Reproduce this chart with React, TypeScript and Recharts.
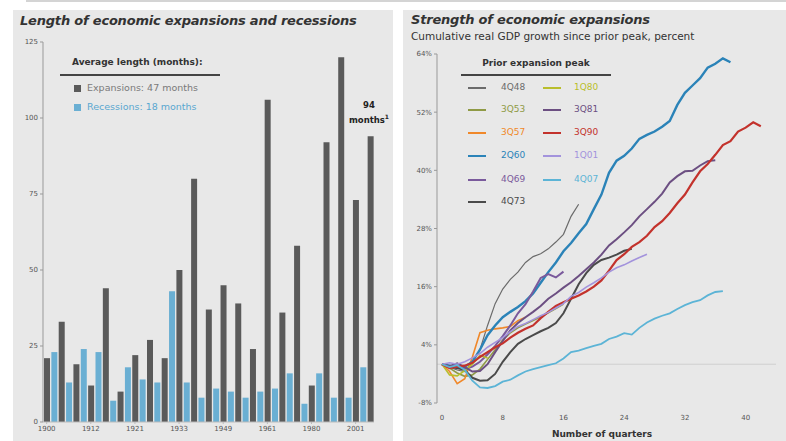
import { BarChart, Bar, XAxis, YAxis, LineChart, Line, ReferenceLine } from "recharts"

// Left panel: length of each expansion / recession (months), alternating, starting with an expansion
const cycleYears = [
  1900, 1902, 1904, 1907, 1908, 1910, 1912, 1913, 1914, 1918, 1919, 1920, 1921, 1923, 1924,
  1926, 1927, 1929, 1933, 1937, 1938, 1945, 1945, 1948, 1949, 1953, 1954, 1957, 1958, 1960,
  1961, 1969, 1970, 1973, 1975, 1980, 1980, 1981, 1982, 1990, 1991, 2001, 2001, 2007, 2009,
]
const cycleMonths = [
  21, 23, 33, 13, 19, 24, 12, 23, 44, 7, 10, 18, 22, 14, 27,
  13, 21, 43, 50, 13, 80, 8, 37, 11, 45, 10, 39, 8, 24, 10,
  106, 11, 36, 16, 58, 6, 12, 16, 92, 8, 120, 8, 73, 18, 94,
]
const monthTicks = [0, 25, 50, 75, 100, 125]

// Right panel: cumulative real GDP growth since prior peak (%), by quarter
const g4Q48 = [0, -0.6, -1.2, -1.5, 0.5, 3, 8, 12.5, 15.5, 17.5, 19, 21, 22.2, 22.8, 23.8, 25.2, 26.8, 30.5, 33]
const g3Q53 = [0, -0.8, -1.8, -2.5, -2.2, -1, 1, 3, 5, 6.5, 7.5, 8.3, 9, 9.8, 10.6, 11.5, 12.4]
const g3Q57 = [0, -1.5, -4, -3, 1.5, 6.5, 7, 7.3, 7.5, 7.8, 9, 9.7]
const g2Q60 = [
  0, -0.3, -0.8, -0.5, 0.5, 3, 6, 8, 9.7, 10.8, 11.8, 13, 14.6, 16.8, 19, 21, 23.3, 25, 27, 28.9,
  32, 35, 39.5, 42, 43, 44.5, 46.5, 47.3, 48, 49, 50.2, 53.5, 56, 57.5, 59, 61.2, 62, 63.1, 62.3,
]
const g4Q69 = [0, -0.5, -0.3, -1, -0.5, 0.5, 2, 3.8, 5.8, 8, 10.5, 12.4, 15, 17.8, 18.6, 17.9, 19.1]
const g4Q73 = [
  0, -0.5, -0.8, -1.2, -2.8, -3.4, -3.3, -2, 0.5, 2.5, 4.2, 5.2, 6, 6.8, 7.5, 8.5, 10.5, 13.5,
  16.5, 18.8, 20.5, 21.5, 22, 22.6, 23.4, 23.8,
]
const g1Q80 = [0, -2.2, -2.4, -1.3, 0, 1.8, 1.3]
const g3Q81 = [
  0, -0.4, 0.2, -0.6, -1.5, -1.4, 0, 2.5, 4.8, 7, 8.5, 9.7, 10.8, 12, 13.5, 14.6, 15.8, 16.9, 18.2,
  19.6, 21, 22.6, 24.5, 25.8, 27.2, 28.7, 30.5, 32, 33.5, 35.2, 37.5, 38.8, 39.8, 39.9, 41, 41.9, 42.1,
]
const g3Q90 = [
  0, -0.8, -0.5, -0.3, 0.3, 1.5, 2.5, 3.5, 4.3, 5.5, 6.5, 7.3, 8, 9.5, 10.8, 12, 12.8, 13.5, 14.2,
  15, 16, 17.3, 19.3, 21.5, 22.7, 24.2, 25.2, 26.5, 28.3, 29.5, 31.2, 33.2, 35, 37.5, 39.8, 41.3,
  43.2, 45.2, 46, 48, 48.8, 49.9, 49.1,
]
const g1Q01 = [
  0, 0.3, 0, 0.5, 1.3, 2.2, 3.5, 4.5, 5.5, 6.7, 7.8, 8.4, 9.2, 10, 10.7, 11.6, 12.5, 14, 14.8,
  15.9, 16.8, 17.8, 19, 19.9, 20.5, 21.3, 22, 22.7,
]
const g4Q07 = [
  0, -0.6, -0.2, -1.2, -3.4, -4.8, -4.9, -4.5, -3.6, -3.2, -2.3, -1.5, -1, -0.6, -0.2, 0.2, 1.2,
  2.5, 2.8, 3.3, 3.8, 4.2, 5.2, 5.7, 6.4, 6.1, 7.5, 8.6, 9.4, 10, 10.5, 11.4, 12.2, 12.8, 13.2,
  14.2, 14.9, 15.1,
]
const quarterTicks = [0, 8, 16, 24, 32, 40]
const growthTicks = [-8, 4, 16, 28, 40, 52, 64]

const series = [
  { key: "4Q48", values: g4Q48, color: "#6b6b6b", width: 1.2, col: 0, row: 0 },
  { key: "3Q53", values: g3Q53, color: "#8f9a45", width: 1.6, col: 0, row: 1 },
  { key: "3Q57", values: g3Q57, color: "#f0882a", width: 1.6, col: 0, row: 2 },
  { key: "2Q60", values: g2Q60, color: "#2b83b8", width: 2.4, col: 0, row: 3 },
  { key: "4Q69", values: g4Q69, color: "#7a5a9c", width: 2, col: 0, row: 4 },
  { key: "4Q73", values: g4Q73, color: "#4a4a4a", width: 2, col: 0, row: 5 },
  { key: "1Q80", values: g1Q80, color: "#b9be2c", width: 1.6, col: 1, row: 0 },
  { key: "3Q81", values: g3Q81, color: "#6c4f82", width: 2, col: 1, row: 1 },
  { key: "3Q90", values: g3Q90, color: "#c3322c", width: 2.2, col: 1, row: 2 },
  { key: "1Q01", values: g1Q01, color: "#a393dc", width: 1.6, col: 1, row: 3 },
  { key: "4Q07", values: g4Q07, color: "#5cb4d6", width: 1.8, col: 1, row: 4 },
]

const barData = cycleYears.map((year, i) => ({
  year,
  expansion: i % 2 === 0 ? cycleMonths[i] : null,
  recession: i % 2 === 1 ? cycleMonths[i] : null,
}))

const maxLen = Math.max(...series.map((s) => s.values.length))
const lineData = Array.from({ length: maxLen }, (_, q) => {
  const row: Record<string, number | undefined> = { q }
  series.forEach((s) => {
    row[s.key] = s.values[q]
  })
  return row
})

const FONT = "'DejaVu Sans', Verdana, sans-serif"
const GREY = "#5a5a5a"
const BLUE = "#6aafd3"
const tickStyle = { fontSize: 7, fill: "#555", fontFamily: FONT }

const abs = (left: number, top: number, extra: React.CSSProperties = {}): React.CSSProperties => ({
  position: "absolute",
  left,
  top,
  fontFamily: FONT,
  whiteSpace: "nowrap",
  ...extra,
})

const rowY = [88, 110, 133, 156, 180, 202]

export default function App() {
  return (
    <div style={{ position: "absolute", left: 0, top: 0, width: 786, height: 441, background: "#fff", overflow: "hidden" }}>
      <div style={abs(26, 0, { width: 760, height: 2, background: "#d4d4d4" })} />
      <div style={abs(13, 10, { width: 380, height: 431, background: "#e8e8e8" })} />
      <div style={abs(403, 10, { width: 383, height: 431, background: "#e8e8e8" })} />

      {/* left panel */}
      <div style={abs(20, 13, { fontSize: 13, fontWeight: "bold", fontStyle: "italic", color: "#333", letterSpacing: -0.2 })}>
        Length of economic expansions and recessions
      </div>
      <div style={abs(0, 0)}>
        <BarChart width={400} height={441} data={barData} margin={{ top: 42, right: 26, bottom: 7, left: 13 }}>
          <YAxis
            domain={[0, 125]}
            ticks={monthTicks}
            width={30}
            tick={tickStyle}
            tickSize={3}
            stroke="#999"
            interval={0}
          />
          <XAxis
            dataKey="year"
            interval={5}
            height={12}
            tick={tickStyle}
            tickSize={2}
            stroke="#bbb"
          />
          <Bar dataKey="expansion" stackId="a" fill={GREY} barSize={6} isAnimationActive={false} />
          <Bar dataKey="recession" stackId="a" fill={BLUE} barSize={6} isAnimationActive={false} />
        </BarChart>
      </div>
      <div style={abs(72, 57, { fontSize: 9, fontWeight: "bold", color: "#333" })}>Average length (months):</div>
      <div style={abs(60, 74, { width: 160, height: 1.5, background: "#444" })} />
      <div style={abs(74, 85, { width: 7, height: 7, background: GREY })} />
      <div style={abs(87, 82, { fontSize: 9.5, color: "#7a7a7a" })}>Expansions: 47 months</div>
      <div style={abs(74, 104, { width: 7, height: 7, background: BLUE })} />
      <div style={abs(87, 101, { fontSize: 9.5, color: "#5aa7d0" })}>Recessions: 18 months</div>
      <div style={abs(346, 99, { width: 46, textAlign: "center", fontSize: 8.5, fontWeight: "bold", color: "#222", lineHeight: "12px" })}>
        94
        <br />
        months<sup style={{ fontSize: 6 }}>1</sup>
      </div>

      {/* right panel */}
      <div style={abs(411, 12, { fontSize: 13, fontWeight: "bold", fontStyle: "italic", color: "#333", letterSpacing: -0.2 })}>
        Strength of economic expansions
      </div>
      <div style={abs(411, 30, { fontSize: 10.5, color: "#333" })}>
        Cumulative real GDP growth since prior peak, percent
      </div>
      <div style={abs(400, 0)}>
        <LineChart width={386} height={441} data={lineData} margin={{ top: 54, right: 10, bottom: 18, left: 7 }}>
          <XAxis
            dataKey="q"
            type="number"
            domain={[-0.66, 44]}
            ticks={quarterTicks}
            axisLine={false}
            tickLine={false}
            tickMargin={6}
            height={20}
            tick={tickStyle}
          />
          <YAxis
            domain={[-8, 64]}
            ticks={growthTicks}
            tickFormatter={(v) => `${v}%`}
            width={30}
            tick={tickStyle}
            tickSize={3}
            stroke="#999"
            interval={0}
          />
          <ReferenceLine y={0} stroke="#cfcfcf" strokeWidth={1} />
          {series.map((s) => (
            <Line
              key={s.key}
              dataKey={s.key}
              stroke={s.color}
              strokeWidth={s.width}
              dot={false}
              type="linear"
              isAnimationActive={false}
            />
          ))}
        </LineChart>
      </div>
      <div style={abs(480, 429, { fontSize: 9, fontWeight: "bold", color: "#333", width: 244, textAlign: "center" })}>
        Number of quarters
      </div>
      <div style={abs(461, 58, { width: 150, textAlign: "center", fontSize: 9, fontWeight: "bold", color: "#333" })}>
        Prior expansion peak
      </div>
      <div style={abs(461, 74, { width: 150, height: 1.5, background: "#444" })} />
      {series.map((s) => (
        <div key={s.key}>
          <div
            style={abs(s.col === 0 ? 468 : 543, rowY[s.row] - 1, {
              width: 18,
              height: Math.max(2, s.width),
              background: s.color,
            })}
          />
          <div style={abs(s.col === 0 ? 501 : 574, rowY[s.row] - 6, { fontSize: 9, color: s.color })}>{s.key}</div>
        </div>
      ))}
    </div>
  )
}
